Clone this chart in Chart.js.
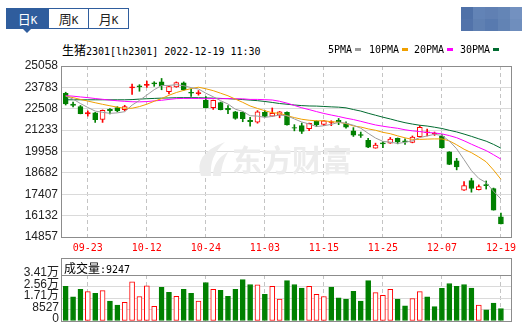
<!DOCTYPE html>
<html lang="zh-CN">
<head>
<meta charset="utf-8">
<title>生猪2301 日K</title>
<script src="https://cdn.jsdelivr.net/npm/chart.js@4.4.1/dist/chart.umd.min.js"></script>
<style>
  html, body { margin: 0; padding: 0; background: #fff; }
  body { position: relative; width: 522px; height: 329px; overflow: hidden; }
  .abs { position: absolute; }
  .cjk { font-family: "Noto Sans CJK SC", sans-serif; }
  .mono { font-family: "DejaVu Sans Mono", monospace; }
  .tab { position: absolute; top: 8px; height: 21px; box-sizing: border-box; border: 1px solid #2f5d9d;
         background: #fff; color: #222; text-align: center; line-height: 19px; white-space: nowrap; }
  .tab .cjk { font-size: 13px; }
  .tab .mono { font-size: 11px; }
  .tab.on { background: #2f5d9d; color: #fff; }
  #caret { left: 23px; top: 29px; width: 0; height: 0; border-left: 4px solid transparent;
           border-right: 4px solid transparent; border-top: 4px solid #2f5d9d; }
  #mosaic { left: 461px; top: 7px; width: 61px; height: 24px; display: grid;
            grid-template-columns: repeat(5, 1fr); grid-template-rows: 1fr 1fr; }
  #title { left: 62px; top: 43px; line-height: 14px; white-space: nowrap; color: #000; }
  .leg { top: 43px; line-height: 14px; font-size: 10px; color: #000; white-space: nowrap; }
  .leg i { display: inline-block; width: 6px; height: 3px; margin-left: 3px; vertical-align: 2px; }
  #volTitle { left: 64px; top: 261px; line-height: 13px; white-space: nowrap; color: #000; }
</style>
</head>
<body>

<div class="tab on" style="left:6px;width:43px"><span class="cjk">日</span><span class="mono">K</span></div>
<div class="tab" style="left:48px;width:41px"><span class="cjk">周</span><span class="mono">K</span></div>
<div class="tab" style="left:88px;width:41px"><span class="cjk">月</span><span class="mono">K</span></div>
<div id="caret" class="abs"></div>
<div id="mosaic" class="abs"></div>

<div id="title" class="abs"><span class="cjk" style="font-size:12px">生猪</span><span class="mono" style="font-size:10px">2301[lh2301] 2022-12-19 11:30</span></div>

<canvas id="kline" class="abs" width="522" height="200" style="left:0;top:56px"></canvas>
<canvas id="vol" class="abs" width="522" height="80" style="left:0;top:250px"></canvas>

<div id="volTitle" class="abs"><span class="cjk" style="font-size:12px">成交量</span><span class="mono" style="font-size:10px">:9247</span></div>

<script>
// x axis: trading days 09-20 .. 12-19, labelled ones
const tickIndex = [3, 11, 19, 27, 35, 43, 51, 59];
const tickLabels = ['09-23', '10-12', '10-24', '11-03', '11-15', '11-25', '12-07', '12-19'];

const priceTicks = [14857, 16132, 17407, 18682, 19958, 21233, 22508, 23783, 25058];
const volTicks = [0, 8527, 17054, 25581, 34108];
const volTickLabels = ['0', '8527', '1.71万', '2.56万', '3.41万'];

// daily candles
const opens = [23435, 22790, 22643, 22203, 22262, 21869, 22467, 22585, 22455, 23757,
               23874, 23904, 24050, 24121, 23523, 23816, 24050, 23493, 23405, 23007,
               22573, 22878, 22526, 22321, 22291, 21822, 21705, 22291, 22069, 22127,
               22291, 21383, 21500, 21324, 21764, 21576, 21693, 21811, 21617, 21189,
               20972, 20620, 20163, 20474, 20456, 20738, 20591, 20503, 20837, 21078,
               21002, 20884, 19935, 19401, 17648, 18217, 17677, 17982, 17748, 16065];
const highs = [23493, 22907, 22702, 22379, 22291, 22438, 22514, 22632, 22714, 23980,
               23945, 24156, 24121, 24314, 23845, 24109, 24109, 23687, 23593, 23229,
               23024, 22907, 22702, 22350, 22321, 21998, 22397, 22397, 22555, 22350,
               22321, 21559, 21658, 21658, 21793, 21822, 21793, 21928, 21734, 21383,
               21119, 20737, 20456, 20544, 20796, 20767, 20709, 20884, 21500, 21295,
               21119, 20972, 19946, 19548, 18158, 18363, 17964, 18199, 17777, 16282];
const lows = [22731, 22614, 22203, 22069, 21693, 21693, 22203, 22321, 22379, 23358,
              23552, 23786, 23845, 23640, 23394, 23786, 23611, 23241, 23317, 22555,
              22468, 22438, 22221, 21881, 21734, 21471, 21646, 22027, 22057, 21969,
              21529, 21189, 21031, 21207, 21442, 21500, 21500, 21559, 21354, 20855,
              20796, 20180, 20152, 20180, 20444, 20415, 20386, 20474, 20826, 20884,
              20914, 20151, 19172, 18862, 17631, 17531, 17660, 17718, 16458, 15637];
const closes = [22790, 22702, 22221, 22280, 21852, 22420, 22379, 22379, 22643, 23816,
                23816, 23962, 23992, 23886, 23827, 24062, 23640, 23435, 23476, 22573,
                23007, 22455, 22438, 21928, 21910, 21734, 22321, 22057, 22233, 22321,
                21541, 21342, 21148, 21635, 21559, 21793, 21734, 21734, 21412, 20931,
                20913, 20210, 20339, 20415, 20691, 20532, 20532, 20814, 21394, 21136,
                21043, 20169, 19184, 19038, 17924, 17748, 17865, 17924, 16458, 15637];

const volumes = [25620, 17850, 23440, 21770, 20540, 22500, 14730, 11830, 13790, 29030,
                 18140, 26130, 10890, 24890, 21260, 18360, 23440, 20540, 14730, 28520,
                 23440, 22710, 18360, 23440, 30700, 27070, 26850, 19810, 25620, 16180,
                 29970, 27070, 24380, 25620, 19810, 18140, 25110, 17130, 16180, 21990,
                 14730, 29970, 21050, 19090, 23440, 16180, 11320, 16690, 21770, 17850,
                 10600, 24170, 27790, 25620, 27070, 24380, 11830, 8200, 13280, 9247];
// 1 = up day (red hollow volume bar), 0 = down day (green)
const volUp = [0, 0, 0, 1, 0, 1, 0, 0, 1, 1,
               1, 1, 1, 0, 0, 1, 0, 0, 1, 0,
               1, 0, 0, 0, 0, 0, 1, 0, 1, 1,
               0, 0, 0, 1, 1, 1, 0, 0, 0, 0,
               0, 0, 1, 1, 1, 0, 0, 1, 1, 0,
               0, 0, 0, 0, 0, 0, 1, 0, 0, 0];

// moving averages as drawn
const ma5 = [23259, 23083, 22819, 22584, 22368, 22297, 22233, 22262, 22332, 22725,
             23007, 23323, 23646, 23892, 23898, 23945, 23880, 23769, 23687, 23435,
             23224, 22989, 22790, 22479, 22350, 22092, 22069, 21992, 22051, 22133,
             22092, 21899, 21717, 21600, 21447, 21494, 21576, 21693, 21646, 21523,
             21347, 21043, 20761, 20562, 20515, 20439, 20503, 20597, 20790, 20884,
             20984, 20914, 20585, 20116, 19471, 18815, 18351, 18099, 17583, 17126];
const ma10 = [23259, 23171, 23065, 22966, 22866, 22772, 22684, 22602, 22538, 22538,
              22637, 22778, 22954, 23112, 23312, 23476, 23605, 23710, 23792, 23699,
              23587, 23435, 23282, 23083, 22889, 22673, 22526, 22391, 22268, 22239,
              22092, 21981, 21881, 21822, 21787, 21793, 21734, 21705, 21623, 21482,
              21418, 21306, 21224, 21101, 21019, 20890, 20773, 20679, 20679, 20697,
              20708, 20708, 20591, 20357, 20093, 19888, 19630, 19342, 18850, 18299];
const ma20 = [23288, 23259, 23212, 23171, 23118, 23071, 23024, 22983, 22948, 22925,
              22919, 22936, 22977, 23013, 23065, 23112, 23124, 23124, 23118, 23106,
              23118, 23106, 23118, 23100, 23100, 23065, 23065, 23048, 23030, 22954,
              22842, 22708, 22567, 22455, 22338, 22227, 22133, 22045, 21945, 21863,
              21758, 21646, 21541, 21465, 21400, 21342, 21254, 21189, 21148, 21089,
              21066, 21007, 20908, 20779, 20597, 20392, 20198, 20011, 19764, 19501];
const ma30 = [23042, 23042, 23042, 23042, 23042, 23042, 23042, 23042, 23042, 23054,
              23083, 23106, 23124, 23142, 23153, 23165, 23171, 23171, 23165, 23153,
              23142, 23124, 23106, 23083, 23054, 23024, 22989, 22942, 22884, 22819,
              22778, 22731, 22696, 22673, 22667, 22643, 22620, 22602, 22561, 22461,
              22368, 22239, 22121, 22004, 21899, 21781, 21676, 21594, 21523, 21476,
              21406, 21330, 21224, 21125, 20996, 20861, 20714, 20573, 20380, 20157];

const maLabels = ['5PMA', '10PMA', '20PMA', '30PMA'];
const maColors = ['#9c9c9c', '#f0a000', '#ff00ff', '#006b30'];
const maData = [ma5, ma10, ma20, ma30];

const RED = '#ff0000', GREEN = '#008000', GRID = '#dadada';
const xs = closes.map((_, i) => i);

// legend + mosaic (html)
const legLeft = [328, 369, 414, 460];
maLabels.forEach((t, k) => {
    const d = document.createElement('div');
    d.className = 'abs leg mono';
    d.style.left = legLeft[k] + 'px';
    d.innerHTML = t + '<i style="background:' + maColors[k] + '"></i>';
    document.body.appendChild(d);
});
['#4f71a8', '#6283b6', '#6080b3', '#6485b6', '#7391c0',
 '#5273aa', '#5f80b2', '#587aaf', '#6283b4', '#6f8ebd'].forEach(c => {
    const s = document.createElement('div');
    s.style.background = c;
    document.getElementById('mosaic').appendChild(s);
});

const isUp = i => closes[i] > opens[i];
const candleColor = i => isUp(i) ? RED : GREEN;
const bodyFill = i => !isUp(i) ? GREEN : (closes[i] - opens[i] < 120 ? RED : '#fff');

function xAxis(withLabels) {
    return {
        type: 'linear', min: -0.5, max: 60.5, offset: false,
        afterBuildTicks: s => { s.ticks = tickIndex.map(v => ({ value: v })); },
        afterFit: s => { s.height = withLabels ? 19 : 8; },
        grid: { color: '#c4c4c4', drawTicks: false, offset: false },
        border: { display: false, dash: [4, 3] },
        ticks: {
            display: withLabels, autoSkip: false, maxRotation: 0, padding: 5, color: RED,
            font: { family: 'DejaVu Sans Mono', size: 10 },
            callback: (v, i) => tickLabels[i]
        }
    };
}

const frame = {
    id: 'frame',
    afterDraw(chart, args, opts) {
        const { ctx, chartArea: a } = chart;
        const top = a.top - (opts.extraTop || 0);
        ctx.save();
        ctx.strokeStyle = '#8c8c8c';
        ctx.lineWidth = 1;
        ctx.strokeRect(Math.round(a.left) - 0.5, Math.round(top) + 0.5,
                       Math.round(a.right - a.left), Math.round(a.bottom - top));
        ctx.restore();
    }
};

const watermark = {
    id: 'watermark',
    beforeDatasetsDraw(chart) {
        const { ctx, chartArea: a } = chart;
        const x0 = a.left + 133, y0 = a.top + 76;
        ctx.save();
        ctx.fillStyle = '#ececec';
        // flame logo
        ctx.beginPath();
        ctx.moveTo(x0 + 6, y0 + 34);
        ctx.quadraticCurveTo(x0 - 2, y0 + 12, x0 + 30, y0);
        ctx.quadraticCurveTo(x0 + 14, y0 + 14, x0 + 16, y0 + 34);
        ctx.closePath();
        ctx.fill();
        ctx.beginPath();
        ctx.moveTo(x0 + 18, y0 + 34);
        ctx.quadraticCurveTo(x0 + 18, y0 + 18, x0 + 33, y0 + 10);
        ctx.quadraticCurveTo(x0 + 26, y0 + 22, x0 + 26, y0 + 34);
        ctx.closePath();
        ctx.fill();
        ctx.font = 'bold 30px "Noto Sans CJK SC"';
        ctx.textBaseline = 'middle';
        ctx.fillText('东方财富', x0 + 37, y0 + 18);
        ctx.restore();
    }
};

new Chart(document.getElementById('kline'), {
    type: 'bar',
    data: {
        datasets: [
            ...maData.map((arr, k) => ({
                type: 'line', label: maLabels[k],
                data: arr.map((v, i) => ({ x: i, y: v })),
                borderColor: maColors[k], borderWidth: 1, pointRadius: 0, tension: 0
            })),
            {
                label: 'body',
                data: xs.map(i => ({ x: i, y: [opens[i], closes[i]] })),
                barThickness: 5, grouped: false, borderWidth: 1, borderSkipped: false,
                backgroundColor: c => bodyFill(c.dataIndex),
                borderColor: c => candleColor(c.dataIndex)
            },
            {
                label: 'wick',
                data: xs.map(i => ({ x: i, y: [lows[i], highs[i]] })),
                barThickness: 1, grouped: false, borderWidth: 0,
                backgroundColor: c => candleColor(c.dataIndex)
            }
        ]
    },
    options: {
        responsive: false, animation: false, devicePixelRatio: 1,
        layout: { padding: { top: 7, right: 10, left: 0, bottom: 0 } },
        plugins: { legend: { display: false }, tooltip: { enabled: false } },
        scales: {
            x: xAxis(true),
            y: {
                min: 14857, max: 25058, beginAtZero: false,
                afterBuildTicks: s => { s.ticks = priceTicks.map(v => ({ value: v })); },
                afterFit: s => { s.width = 62; },
                grid: { color: GRID, drawTicks: false },
                border: { display: false },
                ticks: {
                    autoSkip: false, padding: 4, color: '#222',
                    font: { family: '"Liberation Sans", sans-serif', size: 12, lineHeight: 1 },
                    callback: (v, i) => String(priceTicks[i])
                }
            }
        }
    },
    plugins: [watermark, frame]
});

new Chart(document.getElementById('vol'), {
    type: 'bar',
    data: {
        datasets: [{
            label: '成交量',
            data: xs.map(i => ({ x: i, y: volumes[i] })),
            barThickness: 5, grouped: false, borderWidth: 1, borderSkipped: false,
            backgroundColor: c => volUp[c.dataIndex] ? '#fff' : GREEN,
            borderColor: c => volUp[c.dataIndex] ? RED : GREEN
        }]
    },
    options: {
        responsive: false, animation: false, devicePixelRatio: 1,
        layout: { padding: { top: 25, right: 10, left: 0, bottom: 0 } },
        plugins: { legend: { display: false }, tooltip: { enabled: false }, frame: { extraTop: 17 } },
        scales: {
            x: xAxis(false),
            y: {
                min: 0, max: 34108, beginAtZero: true,
                afterBuildTicks: s => { s.ticks = volTicks.map(v => ({ value: v })); },
                afterFit: s => { s.width = 62; },
                grid: { color: c => (c.tick && c.tick.value === 34108) ? '#8c8c8c' : GRID, drawTicks: false },
                border: { display: false },
                ticks: {
                    autoSkip: false, padding: 3, labelOffset: -2, color: '#222',
                    font: { family: '"Liberation Sans", "Noto Sans CJK SC", sans-serif', size: 12, lineHeight: 1 },
                    callback: (v, i) => volTickLabels[i]
                }
            }
        }
    },
    plugins: [frame]
});
</script>
</body>
</html>
